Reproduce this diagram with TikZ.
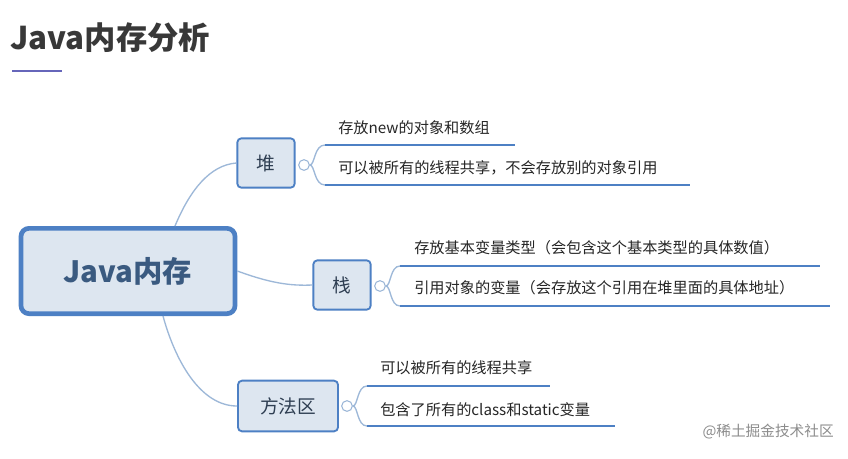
\documentclass[tikz,border=0pt]{standalone}
\usepackage{fontspec}
\setmainfont{Noto Sans CJK SC}
\begin{document}
\begin{tikzpicture}[x=0.75pt,y=-0.75pt,
  sub/.style={draw=boxblue,fill=boxfill,rounded corners=3pt,line width=1.4pt,inner sep=0pt,font=\fontsize{14}{16}\selectfont,text=darktext},
  conn/.style={draw=linkblue,line width=1pt},
  leaf/.style={draw=boxblue,line width=2pt},
  lt/.style={anchor=west,font=\fontsize{11.4}{13}\selectfont,text=black!85,inner sep=0pt},
  knob/.style={circle,draw=linkblue,fill=white,line width=0.8pt,minimum size=8pt,inner sep=0pt}]
\definecolor{boxblue}{HTML}{4D80C4}
\definecolor{boxfill}{HTML}{DDE6F0}
\definecolor{linkblue}{HTML}{9DB8D8}
\definecolor{darktext}{HTML}{2E3E52}
\definecolor{maintext}{HTML}{3A5A80}
\useasboundingbox[fill=white] (0,0) rectangle (848,458);
\node[anchor=west,inner sep=0pt,font=\fontsize{23.5}{28}\bfseries\selectfont,text=black!78] (title) at (10,38) {Java内存分析};
\draw[line width=2pt,draw=black!45!blue!60] (12,71) -- (62,71);
% central
\node[draw=boxblue,fill=boxfill,rounded corners=6pt,line width=3.5pt,minimum width=160.5pt,minimum height=64pt] (c) at (128,271) {};
\node[font=\fontsize{22}{26}\bfseries\selectfont,text=maintext] (ct) at (128,271) {Java内存};
\node[sub,minimum width=43pt,minimum height=37pt] (h) at (266,163) {堆};
\node[sub,minimum width=43pt,minimum height=37pt] (s) at (342,285) {栈};
\node[sub,minimum width=75pt,minimum height=38pt] (m) at (288,406) {方法区};
\draw[conn] (c.north) ++(47,0) coordinate (c1) .. controls (190,190) and (210,165) .. (h.west);
\draw[conn] (c.east) .. controls (270,283) and (290,286) .. (s.west);
\draw[conn] (c.south) ++(35,0) coordinate (c3) .. controls (175,360) and (200,406) .. (m.west);
% heap
\node[knob] (k1) at (304,165) {};
\coordinate (h1a) at (325,145); \coordinate (h1b) at (515,145);
\coordinate (h2a) at (325,185); \coordinate (h2b) at (690,185);
\draw[conn] (k1) .. controls (315,165) and (314,145) .. (h1a);
\draw[conn] (k1) .. controls (315,165) and (314,185) .. (h2a);
\draw[leaf] (h1a) -- (h1b); \draw[leaf] (h2a) -- (h2b);
\node[lt] (t1) at (338,128) {存放new的对象和数组};
\node[lt] (t2) at (338,168) {可以被所有的线程共享，不会存放别的对象引用};
% stack
\node[knob] (k2) at (380,286) {};
\coordinate (s1a) at (400,266); \coordinate (s1b) at (820,266);
\coordinate (s2a) at (400,306); \coordinate (s2b) at (830,306);
\draw[conn] (k2) .. controls (391,286) and (390,266) .. (s1a);
\draw[conn] (k2) .. controls (391,286) and (390,306) .. (s2a);
\draw[leaf] (s1a) -- (s1b); \draw[leaf] (s2a) -- (s2b);
\node[lt] (t3) at (414,248) {存放基本变量类型（会包含这个基本类型的具体数值）};
\node[lt] (t4) at (414,288) {引用对象的变量（会存放这个引用在堆里面的具体地址）};
% method area
\node[knob] (k3) at (347,406) {};
\coordinate (m1a) at (367,386); \coordinate (m1b) at (550,386);
\coordinate (m2a) at (367,426); \coordinate (m2b) at (615,426);
\draw[conn] (k3) .. controls (358,406) and (357,386) .. (m1a);
\draw[conn] (k3) .. controls (358,406) and (357,426) .. (m2a);
\draw[leaf] (m1a) -- (m1b); \draw[leaf] (m2a) -- (m2b);
\node[lt] (t5) at (380,368) {可以被所有的线程共享};
\node[lt] (t6) at (380,410) {包含了所有的class和static变量};
\node[anchor=east,inner sep=0pt,font=\fontsize{11}{13}\selectfont,text=black!45] (wm) at (834,432) {@稀土掘金技术社区};
\end{tikzpicture}
\end{document}
